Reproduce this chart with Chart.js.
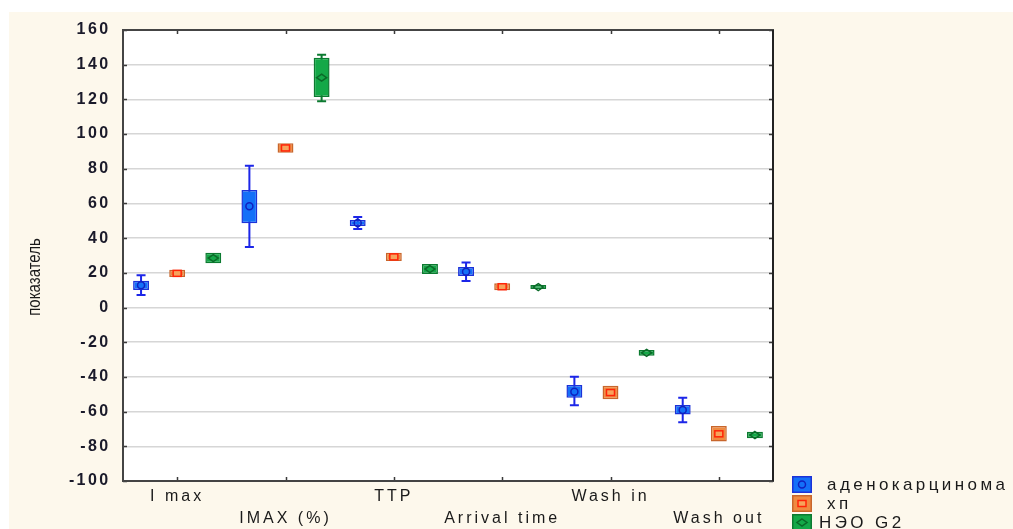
<!DOCTYPE html>
<html><head><meta charset="utf-8">
<script src="https://cdn.jsdelivr.net/npm/chart.js@4/dist/chart.umd.min.js"></script>
<style>html,body{margin:0;padding:0;background:#fff;overflow:hidden}#wrap{position:relative;width:1013px;height:529px}</style>
</head><body><div id="wrap"><canvas id="c" width="1013" height="529"></canvas></div>
<script>
// ---- data ----
const categories = ['I max', 'IMAX (%)', 'TTP', 'Arrival time', 'Wash in', 'Wash out'];
const yTickValues = [-100, -80, -60, -40, -20, 0, 20, 40, 60, 80, 100, 120, 140, 160];
const seriesNames = [' аденокарцинома', ' хп', 'НЭО G2'];

const adenoMean    = [12.8, 58.4, 48.7, 20.7, -48.5, -59.1];
const adenoBoxLow  = [10.1, 48.6, 47.0, 18.2, -52.0, -61.6];
const adenoBoxHigh = [15.5, 67.8, 50.5, 23.4, -44.7, -56.2];
const adenoMin     = [7.2, 34.9, 45.3, 15.3, -56.4, -66.2];
const adenoMax     = [18.6, 81.8, 52.2, 25.9, -39.9, -52.0];

const hpMean    = [19.7, 92.0, 29.2, 12.0, -49.0, -72.8];
const hpBoxLow  = [17.6, 89.3, 26.8, 9.9, -52.9, -77.3];
const hpBoxHigh = [21.8, 94.7, 31.6, 14.0, -45.1, -68.3];
const hpMin     = [17.6, 89.3, 26.8, 9.9, -52.9, -77.3];
const hpMax     = [21.8, 94.7, 31.6, 14.0, -45.1, -68.3];

const neoMean    = [28.5, 132.5, 22.2, 11.8, -26.1, -73.5];
const neoBoxLow  = [25.5, 121.4, 19.3, 10.7, -27.8, -75.4];
const neoBoxHigh = [31.6, 144.0, 25.1, 13.0, -24.5, -71.6];
const neoMin     = [25.5, 118.9, 19.3, 10.7, -27.8, -75.4];
const neoMax     = [31.6, 145.8, 25.1, 13.0, -24.5, -71.6];

// ---- series config ----
const series = [
  {name: seriesNames[0], mean: adenoMean, low: adenoBoxLow, high: adenoBoxHigh, min: adenoMin, max: adenoMax,
   fill: '#1470f8', border: '#1c32d8', whisker: '#1c26e8', marker: 'circle', markerColor: '#1020c0'},
  {name: seriesNames[1], mean: hpMean, low: hpBoxLow, high: hpBoxHigh, min: hpMin, max: hpMax,
   fill: '#f08a40', border: '#c8662c', whisker: '#e03010', marker: 'square', markerColor: '#ff2408'},
  {name: seriesNames[2], mean: neoMean, low: neoBoxLow, high: neoBoxHigh, min: neoMin, max: neoMax,
   fill: '#14a848', border: '#0c7a30', whisker: '#0c7a30', marker: 'diamond', markerColor: '#0a6a28'}
];

const xLabels = categories.map((c, i) => i % 2 === 0 ? [c, ''] : ['', c]);

function drawMarker(ctx, kind, x, y, color) {
  ctx.save();
  ctx.lineWidth = 1.5;
  ctx.strokeStyle = color;
  if (kind === 'circle') {
    ctx.beginPath(); ctx.arc(x, y, 3.5, 0, Math.PI * 2); ctx.stroke();
  } else if (kind === 'square') {
    ctx.fillStyle = '#f7a35c';
    ctx.fillRect(x - 4, y - 3, 8, 6);
    ctx.strokeRect(x - 4, y - 3, 8, 6);
  } else {
    ctx.beginPath();
    ctx.moveTo(x, y - 3.5); ctx.lineTo(x + 5, y); ctx.lineTo(x, y + 3.5); ctx.lineTo(x - 5, y); ctx.closePath();
    ctx.stroke();
  }
  ctx.restore();
}

const boxPlugin = {
  id: 'boxplot',
  beforeDraw(chart) {
    const ctx = chart.ctx, a = chart.chartArea;
    ctx.save();
    ctx.fillStyle = '#fdf8ec';
    ctx.fillRect(9, 12, chart.width - 9, chart.height - 12);
    ctx.fillStyle = '#ffffff';
    ctx.fillRect(a.left, a.top, a.right - a.left, a.bottom - a.top);
    ctx.restore();
    ctx.letterSpacing = '2.4px';
  },
  beforeDatasetsDraw(chart) {
    const ctx = chart.ctx, y = chart.scales.y;
    ctx.save();
    series.forEach((s, d) => {
      const meta = chart.getDatasetMeta(d);
      meta.data.forEach((bar, i) => {
        if (s.max[i] === s.high[i] && s.min[i] === s.low[i]) return;
        const x = bar.x;
        const yMax = y.getPixelForValue(s.max[i]);
        const yMin = y.getPixelForValue(s.min[i]);
        ctx.strokeStyle = s.whisker;
        ctx.lineWidth = 2;
        ctx.beginPath();
        ctx.moveTo(x, yMax); ctx.lineTo(x, yMin);
        ctx.moveTo(x - 4.5, yMax); ctx.lineTo(x + 4.5, yMax);
        ctx.moveTo(x - 4.5, yMin); ctx.lineTo(x + 4.5, yMin);
        ctx.stroke();
      });
    });
    ctx.restore();
  },
  afterDatasetsDraw(chart) {
    const ctx = chart.ctx, y = chart.scales.y, xs = chart.scales.x, a = chart.chartArea;
    series.forEach((s, d) => {
      const meta = chart.getDatasetMeta(d);
      meta.data.forEach((bar, i) => {
        drawMarker(ctx, s.marker, bar.x, y.getPixelForValue(s.mean[i]), s.markerColor);
      });
    });
    ctx.save();
    ctx.strokeStyle = '#3a3a3a';
    ctx.lineWidth = 1.5;
    ctx.beginPath();
    yTickValues.forEach(v => {
      const py = Math.round(y.getPixelForValue(v)) + 0.5;
      ctx.moveTo(a.left, py); ctx.lineTo(a.left + 4, py);
      ctx.moveTo(a.right - 4, py); ctx.lineTo(a.right, py);
    });
    categories.forEach((c, i) => {
      const px = Math.round(xs.getPixelForValue(i)) + 0.5;
      ctx.moveTo(px, a.bottom); ctx.lineTo(px, a.bottom - 4);
      ctx.moveTo(px, a.top); ctx.lineTo(px, a.top + 4);
    });
    ctx.stroke();
    ctx.lineWidth = 2;
    ctx.strokeStyle = '#444';
    ctx.strokeRect(a.left, a.top, a.right - a.left, a.bottom - a.top);
    ctx.strokeStyle = '#222';
    ctx.beginPath(); ctx.moveTo(a.right, a.top); ctx.lineTo(a.right, a.bottom); ctx.stroke();
    ctx.restore();
    ctx.letterSpacing = '3px';
  },
  afterDraw(chart) {
    const ctx = chart.ctx;
    ctx.save();
    // legend
    const lx = 792, ly = [476, 495, 514];
    series.forEach((s, k) => {
      ctx.fillStyle = s.fill;
      ctx.strokeStyle = s.border;
      ctx.lineWidth = 1.5;
      ctx.fillRect(lx, ly[k], 20, 17);
      ctx.strokeRect(lx + 0.75, ly[k] + 0.75, 18.5, 15.5);
      drawMarker(ctx, s.marker, lx + 10, ly[k] + 8.5, s.markerColor);
      ctx.fillStyle = '#1a1a1a';
      ctx.font = '17px "Liberation Sans", Arial, sans-serif';
      ctx.letterSpacing = '3.4px';
      ctx.textBaseline = 'middle';
      ctx.textAlign = 'left';
      ctx.fillText(s.name, 819, ly[k] + 9);
    });
    // y title
    ctx.letterSpacing = '0px';
    ctx.translate(35, 277);
    ctx.scale(1.25, 1);
    ctx.rotate(-Math.PI / 2);
    ctx.font = '15px "Liberation Sans", Arial, sans-serif';
    ctx.fillStyle = '#1a1a1a';
    ctx.textAlign = 'center';
    ctx.textBaseline = 'middle';
    ctx.fillText('показатель', 0, 0);
    ctx.restore();
  }
};

new Chart(document.getElementById('c'), {
  type: 'bar',
  data: {
    labels: xLabels,
    datasets: series.map(s => ({
      label: s.name,
      data: s.low.map((v, i) => [v, s.high[i]]),
      backgroundColor: s.fill,
      borderColor: s.border,
      borderWidth: 1.5,
      borderSkipped: false,
      barPercentage: 0.44,
      categoryPercentage: 1.0
    }))
  },
  options: {
    responsive: false,
    devicePixelRatio: 1,
    animation: false,
    layout: {padding: {left: 0, top: 30, right: 240, bottom: 0}},
    plugins: {legend: {display: false}, tooltip: {enabled: false}},
    scales: {
      x: {
        grid: {display: false, drawTicks: false},
        border: {display: false},
        ticks: {
          z: 1,
          padding: 5,
          color: '#1a1a1a',
          maxRotation: 0,
          autoSkip: false,
          font: {family: '"Liberation Sans", Arial, sans-serif', size: 16, lineHeight: 1.35}
        },
        afterFit(s) { s.height = 48; }
      },
      y: {
        min: -100, max: 160,
        afterBuildTicks(s) { s.ticks = yTickValues.map(v => ({value: v})); },
        grid: {color: '#d6d6d6', lineWidth: 1.5, drawTicks: false},
        border: {display: false},
        ticks: {
          padding: 12.5,
          color: '#1a1a2a',
          font: {family: '"Liberation Sans", Arial, sans-serif', size: 16, weight: 'bold'}
        },
        afterFit(s) { s.width = 123; }
      }
    }
  },
  plugins: [boxPlugin]
});
</script>
</body></html>
